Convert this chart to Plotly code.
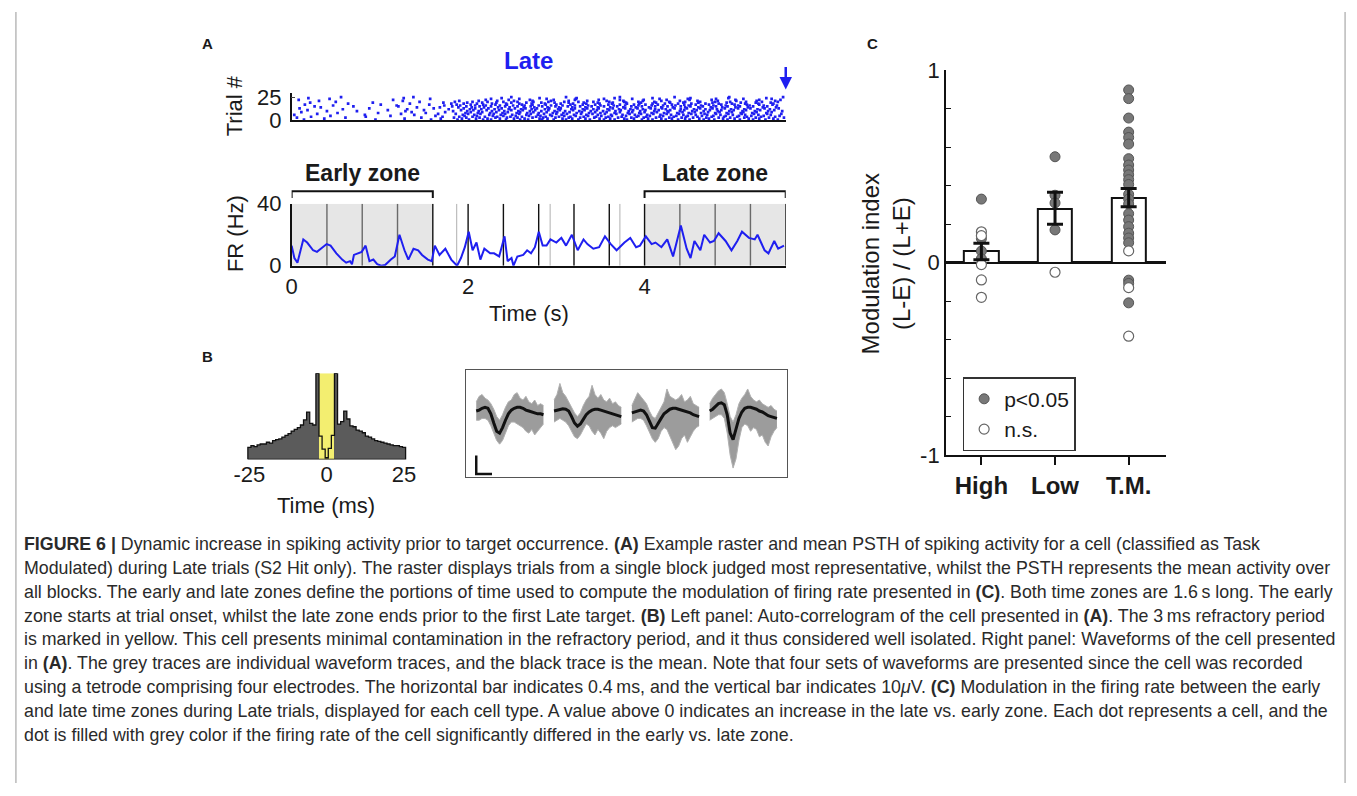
import plotly.graph_objects as go

W, H = 1357, 796


def X(px):
    return px / W


def Y(py):
    return 1 - py / H


BLUE = "#1f1ff0"
FONT = "Liberation Sans, Arial, sans-serif"

# ---------------- Panel A: raster (spike times in centiseconds, one string per trial) ----------------
raster_trials = [
    "14 95 158 188 201 217 226 243 259 268 284 297 311 325 338 354 366 380 397 409 424 438 451 467 479 494 508 523 537 551",
    "37 128 169 193 209 222 236 252 264 281 290 307 318 333 349 361 377 388 404 419 431 446 462 473 489 502 518 530 546",
    "6 61 147 184 198 213 231 244 256 273 285 299 314 327 343 356 370 385 399 413 428 442 455 470 484 497 513 526 541 558",
    "22 84 171 190 205 219 233 248 261 277 288 303 316 331 345 359 374 391 402 417 433 447 460 476 490 505 516 532 548",
    "44 112 163 196 210 228 240 254 269 282 295 309 322 336 351 363 379 393 406 421 436 449 465 478 492 507 521 535 553",
    "3 83 139 194 207 224 237 250 266 279 293 306 320 334 347 362 375 389 403 418 430 444 458 471 486 500 514 529 543",
    "29 124 166 186 200 214 229 242 258 271 286 300 312 328 341 355 368 383 396 410 425 439 453 468 481 495 510 524 539 555",
    "52 98 152 197 211 225 239 255 267 280 296 308 323 337 350 366 381 394 408 422 437 450 464 480 493 509 522 538",
    "11 136 174 203 216 232 245 259 274 289 301 315 329 344 357 372 386 400 414 427 443 457 472 485 499 512 527 544",
    "40 74 129 183 199 212 227 241 257 270 283 298 310 326 339 353 367 382 395 411 426 440 454 467 483 496 511 525 540 556",
    "18 109 150 192 206 221 235 249 262 276 291 304 319 332 346 360 373 387 401 416 429 445 459 474 487 501 515 531 547",
    "58 131 178 202 215 230 246 260 272 287 302 317 330 342 358 371 384 398 412 424 441 456 469 482 498 513 528 542",
    "9 88 161 195 208 223 238 253 265 278 292 305 321 335 348 364 378 392 407 420 434 448 463 477 491 506 520 536 552",
    "33 142 168 189 204 218 234 247 263 275 290 303 318 333 347 361 376 390 405 419 432 446 461 475 488 503 517 534 549",
    "26 70 121 182 198 213 226 242 256 271 284 299 313 327 340 354 369 385 397 412 426 441 452 466 481 494 508 523 539",
    "47 119 173 191 208 220 236 251 264 280 294 307 321 336 350 365 378 393 408 421 435 450 464 478 492 506 519 535 550",
    "15 101 156 187 203 217 231 244 261 273 288 300 316 330 344 359 372 388 401 415 431 445 458 473 487 502 516 530 545",
    "64 134 181 195 210 227 243 258 272 287 305 319 334 349 363 380 394 409 423 438 453 469 484 499 514 529 546",
    "21 92 172 199 216 232 249 266 283 298 314 331 347 364 379 396 413 429 444 461 477 493 509 526 543",
    "50 145 185 205 222 240 256 274 291 309 325 342 360 377 393 411 428 446 463 480 497 515 533 551",
    "31 126 190 212 233 252 273 294 314 335 357 376 398 419 440 460 483 504 527 548",
    "8 115 220 246 270 297 321 348 372 399 425 451 476 503 530 554",
    "43 157 226 258 289 322 354 386 417 449 481 512 544",
    "19 127 238 281 323 366 409 452 495 538",
    "56 138 249 311 372 434 496 557",
]

# ---------------- Panel A: PSTH ----------------
psth_t = [0.000, 0.031, 0.066, 0.132, 0.176, 0.243, 0.287, 0.353, 0.397, 0.441, 0.507, 0.573,
          0.618, 0.662, 0.684, 0.706, 0.750, 0.794, 0.838, 0.882, 0.926, 0.970, 1.015, 1.059,
          1.125, 1.169, 1.222, 1.279, 1.323, 1.381, 1.434, 1.478, 1.544, 1.588, 1.623, 1.676,
          1.742, 1.809, 1.875, 1.919, 1.963, 2.007, 2.051, 2.095, 2.139, 2.184, 2.250, 2.294,
          2.352, 2.413, 2.448, 2.492, 2.514, 2.558, 2.625, 2.669, 2.713, 2.757, 2.801, 2.845,
          2.889, 2.933, 3.000, 3.057, 3.110, 3.176, 3.242, 3.308, 3.352, 3.419, 3.485, 3.551,
          3.617, 3.683, 3.772, 3.838, 3.904, 3.948, 4.014, 4.080, 4.124, 4.191, 4.257, 4.323,
          4.411, 4.477, 4.521, 4.565, 4.632, 4.676, 4.742, 4.786, 4.839, 4.918, 4.985, 5.051,
          5.104, 5.183, 5.249, 5.280, 5.360, 5.404, 5.470, 5.514, 5.580]
psth_hz = [13, 5, 2, 17, 15, 10, 9, 12, 14, 13, 8, 4,
           2, 3, 1, 7, 8, 9, 13, 3, 4, 1, 0, 0.5,
           4, 6, 20, 10, 4, 11, 10, 7, 4, 3, 13, 7,
           11, 4, 0, 5, 12, 22, 10, 15, 4, 11, 8, 8,
           6, 19, 3, 5, 0, 6, 7, 10, 8, 12, 22, 13,
           13, 17, 15, 18, 13, 20, 10, 17, 14, 11, 12, 19,
           14, 10, 15, 18, 12, 13, 19, 14, 15, 12, 17, 6,
           26, 11, 5, 16, 10, 20, 15, 16, 21, 16, 10, 16,
           22, 18, 17, 20, 10, 8, 16, 11, 13]

target_times = [0.4, 0.8, 1.2, 1.6, 2.0, 2.4, 2.8, 3.2, 3.6, 4.0, 4.4, 4.8, 5.2, 5.6]
extra_event_times = [1.87, 2.93, 3.72]
zones = [("Early zone", 0.0, 1.6), ("Late zone", 4.0, 5.6)]

# ---------------- Panel B: auto-correlogram (1 ms bins) ----------------
acg_lag_ms = list(range(-25, 26))
acg_count = [14, 16, 15, 17, 18, 18, 20, 19, 22, 23, 24, 26, 28, 30, 33, 35, 37, 40, 46, 55,
             42, 40, 100, 27, 12, 2, 13, 28, 100, 41, 44, 56, 47, 39, 38, 34, 33, 31, 27, 26,
             24, 22, 21, 20, 19, 18, 17, 16, 16, 15, 14]
refractory_ms = 2.5

# ---------------- Panel B: tetrode waveforms (uV), 24 samples per channel ----------------
wf_dt_ms = 0.074
wf_gap_ms = 1.97
wf_mean = [
    [0, 0.5, 1.5, 2, 1.5, -1.5, -6.5, -11, -12, -9, -5, -1.5, 0.5, 1.5, 2, 2, 1.5, 0.5, 0, -0.5, -1, -1.5, -1.5, -2],
    [0, 0.5, 1, 1.2, 1, 0, -3, -6.5, -8.2, -7, -4.5, -2, -0.5, 0.5, 1, 1, 0.5, 0, -0.5, -1, -1.5, -2, -2.5, -3],
    [-1, -0.5, 0, 0.5, 0, -2, -5.5, -9, -9.3, -7, -4, -1.5, 0, 1, 1.5, 1.5, 1, 0.5, 0, -0.5, -1, -2, -2.5, -3],
    [0, 1, 2.5, 4, 4.5, 3.5, -2, -12, -15.5, -9, -4, -0.5, 1.5, 2, 2, 1.5, 1, 0, -0.5, -1.5, -2.5, -3, -3.5, -4],
]
wf_upper = [
    [5, 8, 9, 7, 6, 4, 1, -3, -5, -2, 2, 5, 6, 9, 10, 7, 6, 8, 5, 4, 6, 3, 4, 3],
    [6, 9, 15, 10, 8, 5, 2, -1, -3, -1, 3, 6, 8, 14, 9, 7, 9, 6, 5, 7, 4, 5, 3, 2],
    [3, 7, 10, 8, 6, 4, 0, -3, -4, -1, 2, 5, 12, 8, 7, 6, 7, 9, 5, 6, 8, 4, 3, 2],
    [4, 7, 9, 11, 12, 10, 4, -3, -6, -2, 4, 7, 9, 12, 8, 6, 5, 6, 4, 3, 2, 3, 1, 0],
]
wf_lower = [
    [-5, -5, -4, -4, -5, -8, -12, -16, -18, -16, -12, -8, -6, -6, -7, -8, -9, -11, -12, -10, -13, -11, -9, -7],
    [-6, -5, -4, -5, -6, -8, -11, -14, -15, -13, -10, -7, -8, -11, -13, -10, -12, -15, -11, -9, -8, -9, -8, -7],
    [-6, -5, -4, -4, -5, -8, -12, -15, -17, -15, -11, -9, -10, -14, -18, -21, -19, -15, -13, -17, -14, -11, -9, -8],
    [-5, -4, -3, -2, -2, -4, -12, -24, -31, -26, -16, -9, -7, -8, -11, -9, -10, -14, -13, -17, -19, -14, -11, -9],
]
scale_bar_ms = 0.4
scale_bar_uv = 10

# ---------------- Panel C: modulation index ----------------
cell_types = ["High", "Low", "T.M."]
mi_mean = [0.058, 0.28, 0.335]
mi_err_plus = [0.043, 0.085, 0.05]
mi_err_minus = [0.043, 0.08, 0.045]
sig_high = [0.33, 0.125, 0.06, 0.02]
ns_high = [0.16, 0.14, -0.01, -0.09, -0.18]
sig_low = [0.55, 0.35, 0.31, 0.17]
ns_low = [-0.05]
sig_tm = [0.897, 0.852, 0.751, 0.678, 0.650, 0.616, 0.540, 0.507, 0.481, 0.456, 0.431, 0.406,
          0.355, 0.330, 0.305, 0.254, 0.221, 0.187, 0.153, 0.128, 0.103, -0.091, -0.108, -0.209]
ns_tm = [0.061, -0.130, -0.382]

fig = go.Figure()

# raster
rx, ry = [], []
for i, row in enumerate(raster_trials):
    for v in row.split():
        rx.append(int(v) / 100.0)
        ry.append(i + 1)
fig.add_trace(go.Scatter(x=rx, y=ry, mode="markers", xaxis="x", yaxis="y",
                         marker=dict(symbol="square", size=2.7, color=BLUE, line=dict(width=0)),
                         showlegend=False, hoverinfo="skip"))

# PSTH
fig.add_trace(go.Scatter(x=psth_t, y=psth_hz, mode="lines", xaxis="x2", yaxis="y2",
                         line=dict(color=BLUE, width=2), showlegend=False))

# auto-correlogram
grey_x = [l for l in acg_lag_ms if abs(l) > refractory_ms]
grey_y = [c for l, c in zip(acg_lag_ms, acg_count) if abs(l) > refractory_ms]
fig.add_trace(go.Bar(x=grey_x, y=grey_y, width=1.0, xaxis="x3", yaxis="y3",
                     marker=dict(color="#5b5b5b", line=dict(width=0)), showlegend=False))
sx, sy = [acg_lag_ms[0] - 0.5], [0]
for l, c in zip(acg_lag_ms, acg_count):
    sx += [l - 0.5, l + 0.5]
    sy += [c, c]
sx += [acg_lag_ms[-1] + 0.5, acg_lag_ms[0] - 0.5]
sy += [0, 0]
fig.add_trace(go.Scatter(x=sx, y=sy, mode="lines", xaxis="x3", yaxis="y3",
                         line=dict(color="#111", width=1.3), showlegend=False))

# waveforms: grey spread of single traces, black mean
for ch in range(4):
    t = [ch * wf_gap_ms + k * wf_dt_ms for k in range(len(wf_mean[ch]))]
    fig.add_trace(go.Scatter(x=t, y=wf_upper[ch], mode="lines", xaxis="x4", yaxis="y4",
                             line=dict(color="#b0b0b0", width=1), showlegend=False))
    fig.add_trace(go.Scatter(x=t, y=wf_lower[ch], mode="lines", xaxis="x4", yaxis="y4",
                             fill="tonexty", fillcolor="#9c9c9c",
                             line=dict(color="#b0b0b0", width=1), showlegend=False))
    fig.add_trace(go.Scatter(x=t, y=wf_mean[ch], mode="lines", xaxis="x4", yaxis="y4",
                             line=dict(color="#111", width=3), showlegend=False))
# scale bar
sb_y0 = -34.2
fig.add_trace(go.Scatter(x=[0, 0, scale_bar_ms], y=[sb_y0 + scale_bar_uv, sb_y0, sb_y0],
                         mode="lines", xaxis="x4", yaxis="y4",
                         line=dict(color="#111", width=2.5), showlegend=False))

# panel C
fig.add_trace(go.Bar(x=cell_types, y=mi_mean, width=0.47, xaxis="x5", yaxis="y5",
                     marker=dict(color="white", line=dict(color="#111", width=2)),
                     showlegend=False))


def cat_points(groups):
    xs, ys = [], []
    for name, vals in groups:
        xs += [name] * len(vals)
        ys += vals
    return xs, ys


fx, fy = cat_points([("High", sig_high), ("Low", sig_low), ("T.M.", sig_tm)])
ox, oy = cat_points([("High", ns_high), ("Low", ns_low), ("T.M.", ns_tm)])
fig.add_trace(go.Scatter(x=fx, y=fy, mode="markers", xaxis="x5", yaxis="y5", name="p<0.05",
                         marker=dict(size=10, color="#787878", line=dict(color="#555", width=1))))
fig.add_trace(go.Scatter(x=ox, y=oy, mode="markers", xaxis="x5", yaxis="y5", name="n.s.",
                         marker=dict(size=10, color="white", line=dict(color="#666", width=1.2))))
fig.add_trace(go.Scatter(x=cell_types, y=mi_mean, mode="markers", xaxis="x5", yaxis="y5",
                         marker=dict(size=1, color="rgba(0,0,0,0)"), showlegend=False,
                         error_y=dict(type="data", array=mi_err_plus, arrayminus=mi_err_minus,
                                      color="#111", thickness=3, width=8)))

shapes = []
# page frame at the left and right edges
for fx_px in (6, 1351):
    shapes.append(dict(type="line", xref="paper", yref="paper", x0=X(fx_px), x1=X(fx_px),
                       y0=0, y1=1, line=dict(color="#a8a8a8", width=1.2)))
# zone shading and target lines in the PSTH
for _, z0, z1 in zones:
    shapes.append(dict(type="rect", xref="x2", yref="y2", x0=z0, x1=z1, y0=0, y1=40,
                       fillcolor="#e6e6e6", line=dict(width=0), layer="below"))


def in_zone(t):
    return any(z0 < t < z1 for _, z0, z1 in zones)


for t in target_times:
    col = "#6a6a6a" if in_zone(t) else "#111"
    shapes.append(dict(type="line", xref="x2", yref="y2", x0=t, x1=t, y0=0, y1=40,
                       line=dict(color=col, width=1.4), layer="below"))
for t in extra_event_times:
    shapes.append(dict(type="line", xref="x2", yref="y2", x0=t, x1=t, y0=0, y1=40,
                       line=dict(color="#bdbdbd", width=1.2), layer="below"))
# zone brackets
for _, z0, z1 in zones:
    shapes.append(dict(type="path", xref="x2", yref="paper",
                       path=f"M {z0},{Y(192)} L {z0},{Y(185)} L {z1},{Y(185)} L {z1},{Y(192)}",
                       line=dict(color="#111", width=2)))
# refractory period
shapes.append(dict(type="rect", xref="x3", yref="y3", x0=-refractory_ms, x1=refractory_ms,
                   y0=0, y1=max(acg_count), fillcolor="#f3ee70", line=dict(width=0), layer="below"))

annotations = []


def txt(s, px, py, size=22, bold=False, color="#1a1a1a", angle=0, anchor="center"):
    annotations.append(dict(text=f"<b>{s}</b>" if bold else s, x=X(px), y=Y(py),
                            xref="paper", yref="paper", showarrow=False, textangle=angle,
                            xanchor=anchor, yanchor="middle",
                            font=dict(size=size, color=color, family=FONT)))


txt("A", 200, 33, size=15, bold=True)
txt("B", 200, 356, size=15, bold=True)
txt("C", 873, 33, size=15, bold=True)
txt("Late", 525, 50, size=24, bold=True, color=BLUE)
txt("Trial #", 228, 97, angle=-90)
txt("FR (Hz)", 228, 229, angle=-90)
txt("Time (s)", 525, 311)
txt("Time (ms)", 320, 510)
for name, z0, z1 in zones:
    annotations.append(dict(text=f"<b>{name}</b>", x=(z0 + z1) / 2, y=Y(166), xref="x2",
                            yref="paper", showarrow=False, xanchor="center", yanchor="middle",
                            font=dict(size=23, color="#1a1a1a", family=FONT)))
annotations.append(dict(text="Modulation index<br>(L-E) / (L+E)", x=X(886), y=Y(260),
                        xref="paper", yref="paper", showarrow=False, textangle=-90,
                        xanchor="center", yanchor="middle",
                        font=dict(size=24, color="#1a1a1a", family=FONT)))
# target arrow
annotations.append(dict(text="", x=target_times[-1], y=Y(80), xref="x", yref="paper",
                        ax=0, ay=-24, showarrow=True, arrowhead=2, arrowsize=1,
                        arrowwidth=2.5, arrowcolor=BLUE))

caption = [
    "<b>FIGURE 6 |</b> Dynamic increase in spiking activity prior to target occurrence. <b>(A)</b> Example raster and mean PSTH of spiking activity for a cell (classified as Task",
    "Modulated) during Late trials (S2 Hit only). The raster displays trials from a single block judged most representative, whilst the PSTH represents the mean activity over",
    "all blocks. The early and late zones define the portions of time used to compute the modulation of firing rate presented in <b>(C)</b>. Both time zones are 1.6\u2009s long. The early",
    "zone starts at trial onset, whilst the late zone ends prior to the first Late target. <b>(B)</b> Left panel: Auto-correlogram of the cell presented in <b>(A)</b>. The 3\u2009ms refractory period",
    "is marked in yellow. This cell presents minimal contamination in the refractory period, and it thus considered well isolated. Right panel: Waveforms of the cell presented",
    "in <b>(A)</b>. The grey traces are individual waveform traces, and the black trace is the mean. Note that four sets of waveforms are presented since the cell was recorded",
    "using a tetrode comprising four electrodes. The horizontal bar indicates 0.4\u2009ms, and the vertical bar indicates 10<i>\u03bc</i>V. <b>(C)</b> Modulation in the firing rate between the early",
    "and late time zones during Late trials, displayed for each cell type. A value above 0 indicates an increase in the late vs. early zone. Each dot represents a cell, and the",
    "dot is filled with grey color if the firing rate of the cell significantly differed in the early vs. late zone.",
]
for i, line in enumerate(caption):
    txt(line, 12, 549 + i * 24.7, size=17.8, color="#2a2a2a", anchor="left")

axis_common = dict(showgrid=False, zeroline=False, linecolor="#111", linewidth=1.5,
                   tickfont=dict(size=22, family=FONT, color="#1a1a1a"))

fig.update_layout(
    width=W, height=H, margin=dict(l=0, r=0, t=0, b=0),
    paper_bgcolor="white", plot_bgcolor="rgba(0,0,0,0)",
    font=dict(family=FONT, color="#1a1a1a"),
    xaxis=dict(domain=[X(285), X(785)], range=[0, 5.6], anchor="y", showline=True,
               showticklabels=False, ticks="", **axis_common),
    yaxis=dict(domain=[Y(112), Y(84)], range=[0, 29], anchor="x", showline=True,
               tickvals=[0, 25], ticks="inside", ticklen=4, ticklabelstandoff=4, **axis_common),
    xaxis2=dict(domain=[X(285), X(785)], range=[0, 5.6], anchor="y2", showline=True,
                tickvals=[0, 2, 4], ticks="", **axis_common),
    yaxis2=dict(domain=[Y(262), Y(198)], range=[0, 40], anchor="x2", showline=True,
                tickvals=[0, 40], ticks="", ticklabelstandoff=4, **axis_common),
    xaxis3=dict(domain=[X(236), X(405)], range=[-27, 27], anchor="y3", showline=False,
                tickvals=[-25, 0, 25], ticktext=["-25", "0", "25"], ticks="", **axis_common),
    yaxis3=dict(domain=[Y(462), Y(373)], range=[0, 100], anchor="x3", visible=False),
    xaxis4=dict(domain=[X(461), X(786)], range=[-0.27, 7.86], anchor="y4", showline=True,
                mirror=True, linecolor="#555", linewidth=1.2, showticklabels=False,
                ticks="", showgrid=False, zeroline=False),
    yaxis4=dict(domain=[Y(480), Y(370)], range=[-35.8, 22.1], anchor="x4", showline=True,
                mirror=True, linecolor="#555", linewidth=1.2, showticklabels=False,
                ticks="", showgrid=False, zeroline=False),
    xaxis5=dict(domain=[X(947), X(1170)], range=[-0.483, 2.51], anchor="y5", showline=True,
                type="category", ticks="outside", ticklen=8, tickwidth=1.5, tickcolor="#111",
                tickvals=cell_types, ticktext=[f"<b>{c}</b>" for c in cell_types],
                showgrid=False, zeroline=False, linecolor="#111", linewidth=1.5,
                tickfont=dict(size=24, family=FONT, color="#1a1a1a")),
    yaxis5=dict(domain=[Y(457.5), Y(60)], range=[-1, 1], anchor="x5", showline=True,
                tickvals=[-1, -0.8, -0.6, -0.4, -0.2, 0, 0.2, 0.4, 0.6, 0.8, 1],
                ticktext=["-1", "", "", "", "", "0", "", "", "", "", "1"],
                ticks="inside", ticklen=5, tickwidth=1.3, tickcolor="#111",
                showgrid=False, zeroline=True, zerolinecolor="#111", zerolinewidth=3,
                linecolor="#111", linewidth=1.5,
                tickfont=dict(size=22, family=FONT, color="#1a1a1a")),
    bargap=0,
    showlegend=True,
    legend=dict(x=X(964), y=Y(377), xanchor="left", yanchor="top", traceorder="normal",
                bordercolor="#333", borderwidth=1.5, bgcolor="white",
                font=dict(size=21, family=FONT, color="#1a1a1a"),
                itemwidth=30, tracegroupgap=0),
    shapes=shapes,
    annotations=annotations,
)

fig.write_html("out.html")
